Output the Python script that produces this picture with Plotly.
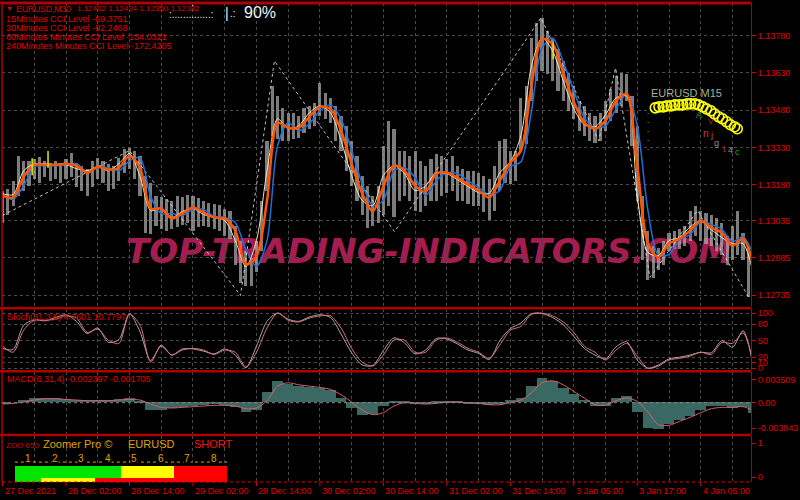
import plotly.graph_objects as go

# ---------------- data ----------------
date_labels = ["27 Dec 2021", "28 Dec 02:00", "28 Dec 14:00", "29 Dec 02:00", "29 Dec 14:00",
               "30 Dec 02:00", "30 Dec 14:00", "31 Dec 02:00", "31 Dec 14:00", "3 Jan 05:00",
               "3 Jan 17:00", "4 Jan 05:00"]
date_tick_hours = [0, 12, 24, 36, 48, 60, 72, 84, 96, 108, 120, 132]
price_labels = ["1.13780", "1.13630", "1.13480", "1.13330", "1.13180", "1.13035", "1.12885", "1.12735"]

bar_high = [1.13156, 1.13164, 1.13196, 1.13297, 1.13276, 1.13276, 1.13285, 1.13293, 1.13276, 1.13268,
            1.13276, 1.13268, 1.13285, 1.13309, 1.13268, 1.13256, 1.13244, 1.13276, 1.13289, 1.13276,
            1.13264, 1.13256, 1.13289, 1.13325, 1.13329, 1.13317, 1.13297, 1.13216, 1.13188, 1.13136,
            1.13132, 1.13124, 1.13116, 1.13136, 1.13132, 1.13140, 1.13136, 1.13128, 1.13116, 1.13108,
            1.13104, 1.13100, 1.13084, 1.13076, 1.13015, 1.12955, 1.12915, 1.12883, 1.12955, 1.13116,
            1.13357, 1.13578, 1.13538, 1.13489, 1.13469, 1.13469, 1.13457, 1.13489, 1.13497, 1.13509,
            1.13590, 1.13550, 1.13529, 1.13497, 1.13457, 1.13417, 1.13357, 1.13297, 1.13216, 1.13176,
            1.13136, 1.13176, 1.13337, 1.13437, 1.13405, 1.13317, 1.13317, 1.13297, 1.13317, 1.13276,
            1.13256, 1.13285, 1.13305, 1.13297, 1.13285, 1.13297, 1.13256, 1.13244, 1.13236, 1.13236,
            1.13228, 1.13216, 1.13204, 1.13256, 1.13357, 1.13365, 1.13317, 1.13317, 1.13529, 1.13578,
            1.13770, 1.13831, 1.13851, 1.13799, 1.13766, 1.13726, 1.13678, 1.13630, 1.13578, 1.13517,
            1.13497, 1.13469, 1.13457, 1.13469, 1.13517, 1.13566, 1.13618, 1.13630, 1.13626, 1.13538,
            1.13417, 1.13136, 1.12995, 1.12935, 1.12927, 1.12955, 1.12987, 1.12995, 1.13003, 1.13015,
            1.13076, 1.13096, 1.13076, 1.13064, 1.13056, 1.13044, 1.13027, 1.12975, 1.13015, 1.13076,
            1.12987, 1.12935]
bar_low = [1.13027, 1.13056, 1.13096, 1.13136, 1.13156, 1.13176, 1.13204, 1.13188, 1.13212, 1.13196,
           1.13204, 1.13188, 1.13204, 1.13212, 1.13172, 1.13156, 1.13136, 1.13172, 1.13204, 1.13188,
           1.13156, 1.13164, 1.13196, 1.13228, 1.13244, 1.13204, 1.13136, 1.12987, 1.12983, 1.13015,
           1.13003, 1.12995, 1.13003, 1.13011, 1.13019, 1.13027, 1.12995, 1.13011, 1.13015, 1.13011,
           1.13003, 1.12995, 1.12975, 1.12963, 1.12855, 1.12783, 1.12774, 1.12774, 1.12827, 1.12915,
           1.13156, 1.13377, 1.13365, 1.13357, 1.13357, 1.13365, 1.13369, 1.13389, 1.13405, 1.13417,
           1.13457, 1.13445, 1.13429, 1.13357, 1.13317, 1.13236, 1.13176, 1.13116, 1.13056, 1.13007,
           1.13015, 1.13027, 1.13056, 1.13096, 1.13048, 1.13116, 1.13136, 1.13116, 1.13076, 1.13068,
           1.13096, 1.13116, 1.13116, 1.13136, 1.13148, 1.13156, 1.13116, 1.13116, 1.13104, 1.13096,
           1.13096, 1.13068, 1.13036, 1.13076, 1.13156, 1.13188, 1.13184, 1.13196, 1.13317, 1.13345,
           1.13517, 1.13598, 1.13638, 1.13626, 1.13598, 1.13558, 1.13517, 1.13477, 1.13445, 1.13397,
           1.13377, 1.13357, 1.13349, 1.13357, 1.13397, 1.13437, 1.13469, 1.13497, 1.13517, 1.13337,
           1.13116, 1.12875, 1.12795, 1.12803, 1.12835, 1.12855, 1.12915, 1.12923, 1.12923, 1.12935,
           1.12955, 1.12975, 1.12955, 1.12943, 1.12935, 1.12915, 1.12895, 1.12855, 1.12875, 1.12895,
           1.12875, 1.12726]

# moving averages, one value every 2 hours
ma_fast = [1.13144, 1.13140, 1.13236, 1.13264, 1.13264, 1.13260, 1.13260, 1.13244, 1.13236, 1.13252,
           1.13236, 1.13264, 1.13305, 1.13212, 1.13076, 1.13084, 1.13048, 1.13072, 1.13084, 1.13060,
           1.13048, 1.13036, 1.12955, 1.12851, 1.12955, 1.13236, 1.13445, 1.13405, 1.13417, 1.13469,
           1.13497, 1.13469, 1.13357, 1.13216, 1.13116, 1.13096, 1.13216, 1.13256, 1.13224, 1.13156,
           1.13176, 1.13228, 1.13224, 1.13200, 1.13172, 1.13148, 1.13144, 1.13228, 1.13272, 1.13377,
           1.13658, 1.13770, 1.13718, 1.13598, 1.13485, 1.13421, 1.13413, 1.13461, 1.13529, 1.13537,
           1.13136, 1.12907, 1.12895, 1.12955, 1.12967, 1.13011, 1.13032, 1.12999, 1.12967, 1.12943,
           1.12943, 1.12815]
ma_mid = [1.13136, 1.13128, 1.13212, 1.13260, 1.13260, 1.13260, 1.13264, 1.13256, 1.13228, 1.13252,
          1.13240, 1.13248, 1.13296, 1.13248, 1.13084, 1.13084, 1.13044, 1.13064, 1.13088, 1.13068,
          1.13048, 1.13044, 1.12996, 1.12859, 1.12891, 1.13116, 1.13429, 1.13409, 1.13409, 1.13453,
          1.13493, 1.13485, 1.13397, 1.13264, 1.13144, 1.13072, 1.13172, 1.13256, 1.13236, 1.13176,
          1.13152, 1.13224, 1.13228, 1.13208, 1.13180, 1.13156, 1.13128, 1.13196, 1.13268, 1.13317,
          1.13578, 1.13766, 1.13746, 1.13630, 1.13513, 1.13429, 1.13405, 1.13437, 1.13517, 1.13545,
          1.13256, 1.12943, 1.12887, 1.12943, 1.12963, 1.12995, 1.13036, 1.13007, 1.12987, 1.12935,
          1.12963, 1.12855]
ma_slow = [1.13140, 1.13120, 1.13176, 1.13252, 1.13256, 1.13256, 1.13260, 1.13264, 1.13232, 1.13248,
           1.13248, 1.13236, 1.13276, 1.13288, 1.13132, 1.13064, 1.13064, 1.13056, 1.13080, 1.13080,
           1.13052, 1.13048, 1.13028, 1.12919, 1.12851, 1.12955, 1.13337, 1.13429, 1.13397, 1.13425,
           1.13477, 1.13501, 1.13445, 1.13317, 1.13184, 1.13096, 1.13116, 1.13236, 1.13248, 1.13208,
           1.13136, 1.13196, 1.13228, 1.13224, 1.13196, 1.13168, 1.13140, 1.13156, 1.13252, 1.13272,
           1.13477, 1.13730, 1.13770, 1.13674, 1.13558, 1.13449, 1.13409, 1.13417, 1.13485, 1.13545,
           1.13417, 1.13079, 1.12895, 1.12899, 1.12959, 1.12979, 1.13032, 1.13020, 1.13000, 1.12951,
           1.12971, 1.12895]

zigzag_hours = [0, 24, 45, 51.4, 74.1, 101.8, 112.7, 115.9, 122.4, 131.4, 141.2]
zigzag_price = [1.13056, 1.13317, 1.12734, 1.13678, 1.12991, 1.13851, 1.13357, 1.13650, 1.12807, 1.13076, 1.12722]

stoch_main = [36, 34, 78, 88, 86, 92, 97, 85, 63, 73,
              47, 52, 99, 66, 14, 40, 24, 35, 35, 31,
              26, 35, 24, 1, 40, 85, 100, 89, 85, 93,
              97, 92, 62, 28, 6, 5, 32, 55, 46, 26,
              33, 54, 53, 44, 33, 27, 16, 50, 72, 82,
              99, 99, 92, 79, 58, 36, 24, 17, 39, 48,
              15, 0, 6, 17, 20, 24, 29, 28, 50, 38,
              68, 0]
stoch_signal = [40, 29, 69, 87, 87, 89, 95, 91, 65, 71,
                51, 45, 98, 78, 11, 42, 24, 33, 36, 33,
                25, 33, 29, 2, 29, 73, 100, 87, 84, 91,
                95, 95, 73, 36, 11, 4, 24, 51, 51, 29,
                29, 51, 55, 47, 36, 29, 18, 42, 69, 76,
                98, 100, 95, 84, 65, 40, 29, 15, 33, 45,
                22, 0, 4, 15, 18, 22, 29, 25, 47, 45,
                64, 8]
stoch_levels = [0, 10, 20, 50, 80, 100]

macd_hist = [-0.0003, 0.0000, 0.0003, 0.0007, 0.0007, 0.0006, 0.0005, 0.0003, 0.0003, 0.0003,
             0.0003, 0.0005, 0.0006, 0.0001, -0.0011, -0.0011, -0.0009, -0.0007, -0.0005, -0.0004,
             -0.0003, -0.0004, -0.0007, -0.0015, -0.0011, 0.0015, 0.0032, 0.0028, 0.0025, 0.0023,
             0.0022, 0.0018, 0.0006, -0.0008, -0.0019, -0.0018, -0.0006, 0.0001, 0.0002, -0.0002,
             -0.0003, 0.0001, 0.0002, 0.0001, -0.0001, -0.0002, -0.0004, -0.0002, 0.0003, 0.0006,
             0.0025, 0.0036, 0.0032, 0.0022, 0.0012, 0.0003, -0.0006, -0.0005, 0.0006, 0.0009,
             -0.0015, -0.0038, -0.0040, -0.0032, -0.0026, -0.0020, -0.0011, -0.0006, -0.0006, -0.0008,
             -0.0007, -0.0016]
macd_signal = [-0.0002, -0.0001, 0.0001, 0.0004, 0.0006, 0.0006, 0.0005, 0.0004, 0.0003, 0.0003,
               0.0003, 0.0004, 0.0005, 0.0004, -0.0002, -0.0007, -0.0008, -0.0007, -0.0006, -0.0005,
               -0.0004, -0.0004, -0.0005, -0.0009, -0.0008, 0.0003, 0.0025, 0.0030, 0.0027, 0.0025,
               0.0023, 0.0020, 0.0012, 0.0001, -0.0011, -0.0018, -0.0015, -0.0005, 0.0000, -0.0001,
               -0.0002, -0.0001, 0.0001, 0.0001, 0.0000, -0.0001, -0.0003, -0.0003, 0.0000, 0.0004,
               0.0015, 0.0030, 0.0033, 0.0027, 0.0017, 0.0007, -0.0003, -0.0004, 0.0003, 0.0007,
               0.0002, -0.0014, -0.0033, -0.0034, -0.0028, -0.0022, -0.0015, -0.0009, -0.0007, -0.0007,
               -0.0006, -0.0012]
macd_labels = ["0.003509", "0.00", "-0.003843"]

zoomer_frames = ["1", "2", "3", "4", "5", "6", "7", "8"]
zoomer_top = ["up", "up", "up", "up", "flat", "flat", "down", "down"]
zoomer_bottom = ["up", "flat", "flat", "down", "down", "down", "down", "down"]

m15_hours = [123.4, 124.1, 124.9, 125.6, 126.4, 127.1, 127.9, 128.6, 129.4, 130.1, 130.9,
             131.6, 132.4, 133.1, 133.9, 134.6, 135.4, 136.1, 136.9, 137.6, 138.4, 138.9]
m15_price = [1.13489, 1.13493, 1.13493, 1.13497, 1.13497, 1.13501, 1.13501, 1.13501, 1.13505, 1.13505, 1.13505,
             1.13501, 1.13493, 1.13485, 1.13477, 1.13465, 1.13453, 1.13445, 1.13433, 1.13421, 1.13413, 1.13405]

signal_hours = [5.6, 8.6, 104.1]
signal_price = [1.13252, 1.13282, 1.13718]

bar_hours = list(range(len(bar_high)))
ma_hours = [2 * i for i in range(len(ma_mid))]

# ---------------- geometry / style ----------------
W, H = 800, 500
ML, MR, MT, MB = 2, 43, 2, 18


def px(x):
    return (x - ML) / (W - ML - MR)


def py(y):
    return (H - MB - y) / (H - MT - MB)


GRID = "#4a4a4a"
RED = "#e00000"
DRED = "#b00000"
GOLD = "#e0a000"
SIGNAL_COLORS = {"up": "#00e600", "flat": "#ffff00", "down": "#ff0000"}

fig = go.Figure()

# --- main price panel ---
fig.add_trace(go.Bar(x=bar_hours, y=[h - l for h, l in zip(bar_high, bar_low)], base=bar_low,
                     width=0.6, marker=dict(color="rgba(165,165,165,0.75)", line=dict(width=0)),
                     xaxis="x", yaxis="y"))
fig.add_trace(go.Scatter(x=zigzag_hours, y=zigzag_price, mode="lines",
                         line=dict(color="rgba(225,225,225,0.85)", width=1, dash="dot"),
                         xaxis="x", yaxis="y"))
fig.add_trace(go.Scatter(x=ma_hours, y=ma_slow, mode="lines",
                         line=dict(color="#1f6fd6", width=1.5, shape="spline", smoothing=0.8),
                         xaxis="x", yaxis="y"))
fig.add_trace(go.Scatter(x=ma_hours, y=ma_fast, mode="lines",
                         line=dict(color="#efe6bf", width=1, shape="spline", smoothing=0.8),
                         xaxis="x", yaxis="y"))
fig.add_trace(go.Scatter(x=ma_hours, y=ma_mid, mode="lines",
                         line=dict(color="#ff5500", width=2.5, shape="spline", smoothing=0.8),
                         xaxis="x", yaxis="y"))
fig.add_trace(go.Scatter(x=m15_hours, y=m15_price, mode="markers",
                         marker=dict(symbol="circle-open", size=10, color="#ffff00", line=dict(width=1.6)),
                         xaxis="x", yaxis="y"))
fig.add_trace(go.Scatter(x=signal_hours, y=signal_price, mode="markers",
                         marker=dict(symbol="line-ns-open", size=12, color="#e8e800", line=dict(width=1.5)),
                         xaxis="x", yaxis="y"))

# --- stochastic ---
fig.add_trace(go.Scatter(x=ma_hours, y=stoch_main, mode="lines",
                         line=dict(color="#a8a8a8", width=1, shape="spline", smoothing=0.8),
                         xaxis="x2", yaxis="y2"))
fig.add_trace(go.Scatter(x=ma_hours, y=stoch_signal, mode="lines",
                         line=dict(color="#e07080", width=1, shape="spline", smoothing=0.8),
                         xaxis="x2", yaxis="y2"))

# --- MACD ---
fig.add_trace(go.Bar(x=ma_hours, y=macd_hist, width=2, marker=dict(color="#3a6863", line=dict(width=0)),
                     xaxis="x3", yaxis="y3"))
fig.add_trace(go.Scatter(x=ma_hours, y=macd_signal, mode="lines",
                         line=dict(color="#d86070", width=1, shape="spline", smoothing=0.8),
                         xaxis="x3", yaxis="y3"))

# --- Zoomer widget ---
frame_pos = [i + 1 for i in range(len(zoomer_frames))]
fig.add_trace(go.Bar(x=frame_pos, y=[0.3525] * len(frame_pos), base=[-0.029] * len(frame_pos), width=1,
                     marker=dict(color=[SIGNAL_COLORS[s] for s in zoomer_top], line=dict(width=0)),
                     xaxis="x5", yaxis="y4"))
fig.add_trace(go.Bar(x=frame_pos, y=[0.118] * len(frame_pos), base=[-0.147] * len(frame_pos), width=1,
                     marker=dict(color=[SIGNAL_COLORS[s] for s in zoomer_bottom], line=dict(width=0)),
                     xaxis="x5", yaxis="y4"))
fig.add_trace(go.Scatter(x=[0.5, 8.5], y=[0.44, 0.44], mode="lines",
                         line=dict(color=GOLD, width=1, dash="dot"), xaxis="x5", yaxis="y4"))

# ---------------- axes ----------------
xbase = dict(range=[-0.1, 141.5], showgrid=True, gridcolor=GRID, griddash="3px,3px", gridwidth=1,
             tickmode="array", tickvals=date_tick_hours, ticktext=date_labels, showticklabels=False,
             ticks="", zeroline=False, showline=False, fixedrange=True,
             minor=dict(tickmode="linear", tick0=0, dtick=6, showgrid=True, gridcolor=GRID,
                        griddash="3px,3px", ticks=""))
ybase = dict(side="right", ticks="outside", ticklen=4, tickcolor=RED, tickwidth=1,
             tickfont=dict(color=RED, size=9), showline=True, linecolor=DRED, linewidth=1,
             zeroline=False, gridcolor=GRID, griddash="3px,3px", fixedrange=True)

fig.update_layout(
    xaxis=dict(xbase, anchor="y"),
    xaxis2=dict(xbase, anchor="y2"),
    xaxis3=dict(xbase, anchor="y3"),
    xaxis4=dict(xbase, anchor="y4"),
    xaxis5=dict(overlaying="x4", anchor="y4", range=[0.014, 28.238], visible=False, fixedrange=True),
    yaxis=dict(ybase, anchor="x", domain=[0.365, 1.0], range=[1.12687, 1.13911],
               tickmode="array", tickvals=[float(t) for t in price_labels], ticktext=price_labels,
               showgrid=True),
    yaxis2=dict(ybase, anchor="x2", domain=[0.2335, 0.3605], range=[-3.5, 106.9],
                tickmode="array", tickvals=stoch_levels, ticktext=[str(v) for v in stoch_levels],
                showgrid=True),
    yaxis3=dict(ybase, anchor="x3", domain=[0.1, 0.229], range=[-0.004725, 0.004575],
                tickmode="array", tickvals=[float(t) for t in macd_labels], ticktext=macd_labels,
                showgrid=False),
    yaxis4=dict(ybase, anchor="x4", domain=[0.0, 0.0958], range=[-0.147, 1.206],
                tickmode="array", tickvals=[0, 1], ticktext=["0", "1"], showgrid=False),
)

# ---------------- shapes ----------------
shapes = []
for yy, wd in [(2, 3), (308, 2.5), (371, 2.5), (435, 2.5)]:
    shapes.append(dict(type="line", xref="paper", yref="paper", x0=px(0), x1=1, y0=py(yy), y1=py(yy),
                       line=dict(color=DRED, width=wd)))
shapes.append(dict(type="line", xref="paper", yref="paper", x0=0, x1=0, y0=0, y1=1,
                   line=dict(color=DRED, width=1.5)))
shapes.append(dict(type="line", xref="paper", yref="paper", x0=0, x1=1, y0=0, y1=0,
                   line=dict(color=RED, width=1, dash="dot")))
shapes.append(dict(type="line", xref="x3 domain", yref="y3", x0=0, x1=1, y0=0, y1=0,
                   line=dict(color="#8a8a8a", width=1, dash="3px,3px")))
for hv in date_tick_hours:
    shapes.append(dict(type="line", xref="x4", yref="paper", x0=hv, x1=hv, y0=py(482), y1=py(486),
                       line=dict(color=RED, width=1)))
shapes.append(dict(type="rect", xref="paper", yref="paper", x0=px(120), x1=px(745), y0=py(268), y1=py(230),
                   line=dict(width=0), fillcolor="rgba(0,0,0,0)", layer="below",
                   label=dict(text="TOP-TRADING-INDICATORS.COM", textposition="middle center",
                              font=dict(family="DejaVu Sans", size=34, color="rgba(190,32,92,0.9)",
                                        weight="bold", style="italic"))))

# ---------------- annotations ----------------
ann = []


def txt(x, y, s, color=RED, size=9, family=None, anchor="left", bg=None):
    d = dict(xref="paper", yref="paper", x=px(x), y=py(y), text=s, showarrow=False,
             xanchor=anchor, yanchor="middle", font=dict(color=color, size=size))
    if family:
        d["font"]["family"] = family
    if bg:
        d["bgcolor"] = bg
    ann.append(d)


# date labels along the bottom axis (left aligned at their tick, MT4 style)
for hv, lab in zip(date_tick_hours, date_labels):
    ann.append(dict(xref="x4", yref="paper", x=hv, y=py(491), text=lab, showarrow=False,
                    xanchor="left", yanchor="middle", xshift=0, font=dict(color=RED, size=9)))

txt(4, 8, "▼", size=7)
txt(14, 8, "EURUSD,M30", size=8.5)
txt(76, 8, "1.12402 1.12434 1.12350 1.12382", size=8)
txt(4, 18, "15Minutes CCI Level -69.3751")
txt(4, 27, "30Minutes CCI Level -92.2468")
txt(4, 36, "60Minutes Minutes CCI Level -134.0321")
txt(4, 45, "240Minutes Minutes CCI Level -172.4205")
txt(168, 14, ":..............:", color="#e8e8e8", size=10)
txt(190, 5, "·", color="#e8e8e8", size=10)
txt(225, 12, "|", color="#f0f0f0", size=14)
txt(230, 13, ".:", color="#e8e8e8", size=10)
txt(244, 12, "90%", color="#f4f4f4", size=16)

txt(5, 317, "Stoch(31,3,5) 4.7601 10.7797")
txt(5, 379, "MACD(6,31,4) -0.002397 -0.001705")

txt(4, 445, "ZOO 650", color="#d00000", size=8)
txt(41, 444, "Zoomer Pro ©", color=GOLD, size=11)
txt(127, 444, "EURUSD", color=GOLD, size=11)
txt(194, 444, "SHORT", color="#ff1010", size=11)

for pos, lab in zip(frame_pos, zoomer_frames):
    ann.append(dict(xref="x5", yref="y4", x=pos, y=0.56, text=lab, showarrow=False,
                    font=dict(color=GOLD, size=10), bgcolor="black", borderpad=0))

txt(654, 92, "EURUSD M15", color="#9fb394", size=11)
txt(650, 130, "-<br>-<br>-<br>-<br>-", color="#8c8c8c", size=7)
txt(700, 114, "A", color="#30a030", size=9)
txt(712, 121, "V", color="#d02020", size=8)
txt(707, 133, "n", color="#d04040", size=10)
txt(714, 134, "j", color="#d04040", size=9)
txt(718, 142, "g", color="#909090", size=9)
txt(727, 148, "t", color="#c03030", size=9)
txt(732, 149, "4", color="#909090", size=9)
txt(739, 151, "c", color="#30a030", size=9)

fig.update_layout(
    width=W, height=H, margin=dict(l=ML, r=MR, t=MT, b=MB, pad=0),
    paper_bgcolor="black", plot_bgcolor="black", showlegend=False, hovermode=False,
    barmode="overlay", bargap=0,
    font=dict(family="Liberation Sans, Arial, sans-serif", size=9, color=RED),
    shapes=shapes, annotations=ann,
)

fig.write_html("out.html", config={"displayModeBar": False},
               post_script="document.body.style.margin='0';document.body.style.background='black';")
